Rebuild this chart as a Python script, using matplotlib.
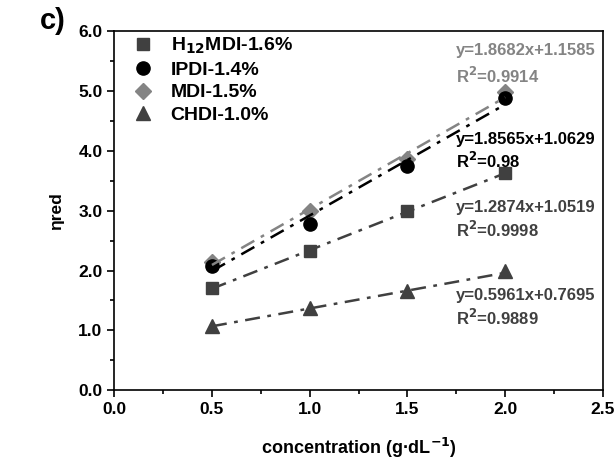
import matplotlib.pyplot as plt
import numpy as np

plt.rcParams['font.family'] = ['Liberation Sans', 'DejaVu Sans']
plt.rcParams['font.weight'] = 'bold'
plt.rcParams['mathtext.default'] = 'bf'

conc = [0.5, 1.0, 1.5, 2.0]
labels = ["H$_{12}$MDI-1.6%", "IPDI-1.4%", "MDI-1.5%", "CHDI-1.0%"]
eta_h12mdi = [1.71, 2.33, 3.00, 3.63]
eta_ipdi = [2.08, 2.78, 3.75, 4.88]
eta_mdi = [2.15, 3.00, 3.87, 4.98]
eta_chdi = [1.08, 1.37, 1.65, 2.00]
slopes = [1.2874, 1.8565, 1.8682, 0.5961]
intercepts = [1.0519, 1.0629, 1.1585, 0.7695]
r2 = ["0.9998", "0.98", "0.9914", "0.9889"]

series = [eta_h12mdi, eta_ipdi, eta_mdi, eta_chdi]
markers = ["s", "o", "D", "^"]
colors = ["#404040", "#000000", "#848484", "#404040"]
msizes = [9, 9.5, 8.5, 10]
# label centres (x, y_eq, y_r2) in data units
label_pos = [(1.75, 3.05, 2.67), (1.75, 4.19, 3.83), (1.75, 5.67, 5.25), (1.75, 1.58, 1.20)]

fig = plt.figure(figsize=(6.14, 4.59), dpi=100)
ax = fig.add_axes([0.186, 0.150, 0.796, 0.782])

# fit lines drawn over the markers, as in the original
for i in [0, 3, 2, 1]:
    xs = np.array([conc[0], conc[-1]])
    ax.plot(xs, slopes[i] * xs + intercepts[i], color=colors[i], lw=1.8,
            dashes=(6, 3, 1.5, 3), zorder=3)
for i in [0, 3, 2, 1]:
    ax.plot(conc, series[i], ls="none", marker=markers[i], ms=msizes[i],
            color=colors[i], mec=colors[i], zorder=2, label=labels[i])

for i in range(4):
    x, ye, yr = label_pos[i]
    ax.text(x, ye, f"y={slopes[i]:.4f}x+{intercepts[i]:.4f}", color=colors[i],
            fontsize=12, fontweight="bold", va="center", ha="left")
    ax.text(x, yr, f"R$^2$={r2[i]}", color=colors[i],
            fontsize=12, fontweight="bold", va="center", ha="left")

handles, labs = ax.get_legend_handles_labels()
order = [labs.index(l) for l in labels]
ax.legend([handles[k] for k in order], labels, loc="upper left", frameon=False,
          handletextpad=0.15, labelspacing=0.25, borderaxespad=0.25, borderpad=0.0,
          handlelength=2.5, prop={"weight": "bold", "size": 14})

ax.set_xlim(0, 2.5)
ax.set_ylim(0, 6)
ax.set_xticks(np.arange(0, 2.51, 0.5))
ax.set_xticks(np.arange(0.25, 2.5, 0.5), minor=True)
ax.set_yticks(np.arange(0, 6.01, 1.0))
ax.set_yticks(np.arange(0.5, 6, 1.0), minor=True)
ax.set_xticklabels([f"{v:.1f}" for v in np.arange(0, 2.51, 0.5)])
ax.set_yticklabels([f"{v:.1f}" for v in np.arange(0, 6.01, 1.0)])
ax.tick_params(which="both", direction="out", top=False, right=False, labelsize=12.5, width=1.2)
ax.tick_params(which="major", length=5)
ax.tick_params(which="minor", length=3)
for s in ax.spines.values():
    s.set_linewidth(1.2)

ax.set_xlabel("concentration (g·dL$^{-1}$)", fontsize=13, fontweight="bold", labelpad=14)
ax.set_ylabel("ηred", fontsize=12.5, fontweight="bold", labelpad=10)
fig.text(0.065, 0.955, "c)", fontsize=21, fontweight="bold", va="center")

fig.savefig("out.png", dpi=100)
